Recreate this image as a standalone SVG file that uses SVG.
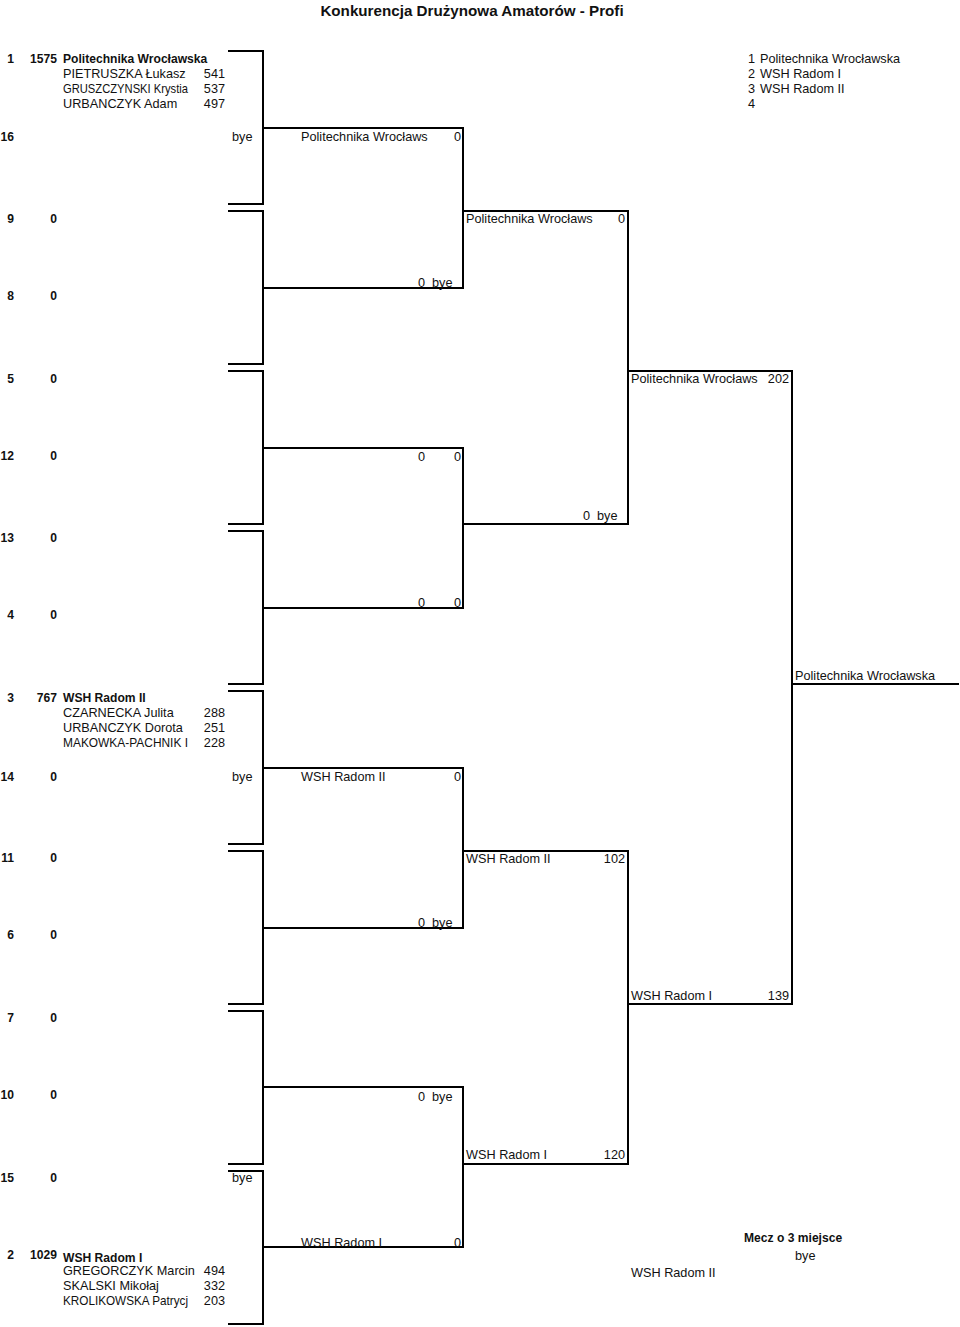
<svg xmlns="http://www.w3.org/2000/svg" width="960" height="1327" viewBox="0 0 960 1327">
<style>
text{font-family:"Liberation Sans",Arial,sans-serif;font-size:12.7px;fill:#111}
.b{font-weight:bold;font-size:12.1px}
.t{font-weight:bold;font-size:15.2px}
.e{text-anchor:end}
.c{text-anchor:middle}
.ln{fill:none;stroke:#000;stroke-width:2;stroke-linecap:square;stroke-linejoin:miter}
</style>
<rect width="960" height="1327" fill="#fff"/>
<g id="title"><text class="t c" x="472" y="16">Konkurencja Drużynowa Amatorów - Profi</text></g>
<g id="ranking">
<text x="748" y="63">1</text><text x="760" y="63">Politechnika Wrocławska</text>
<text x="748" y="77.5">2</text><text x="760" y="77.5">WSH Radom I</text>
<text x="748" y="92.5">3</text><text x="760" y="92.5">WSH Radom II</text>
<text x="748" y="107.5">4</text>
</g>
<g id="connectors">
<path class="ln" d="M229,51 H263 V204 H229"/>
<path class="ln" d="M229,211 H263 V364 H229"/>
<path class="ln" d="M229,371 H263 V524 H229"/>
<path class="ln" d="M229,531 H263 V684 H229"/>
<path class="ln" d="M229,691 H263 V844 H229"/>
<path class="ln" d="M229,851 H263 V1004 H229"/>
<path class="ln" d="M229,1011 H263 V1164 H229"/>
<path class="ln" d="M229,1171 H263 V1324 H229"/>
<path class="ln" d="M263,128 H463 V288 H263"/>
<path class="ln" d="M263,448 H463 V608 H263"/>
<path class="ln" d="M263,768 H463 V928 H263"/>
<path class="ln" d="M263,1087 H463 V1247 H263"/>
<path class="ln" d="M463,211 H628 V524 H463"/>
<path class="ln" d="M463,851 H628 V1164 H463"/>
<path class="ln" d="M628,371 H792 V1004 H628"/>
<path class="ln" d="M792,684 H958"/>
</g>
<g id="seed1">
<text class="b e" x="14" y="63">1</text><text class="b e" x="57" y="63">1575</text><text class="b" x="63" y="63">Politechnika Wrocławska</text>
<text x="63" y="77.5">PIETRUSZKA Łukasz</text><text class="e" x="225" y="77.5">541</text>
<text x="63" y="92.5" textLength="125" lengthAdjust="spacingAndGlyphs">GRUSZCZYNSKI Krystia</text><text class="e" x="225" y="92.5">537</text>
<text x="63" y="107.5">URBANCZYK Adam</text><text class="e" x="225" y="107.5">497</text>
</g>
<g id="seed16"><text class="b e" x="14" y="141">16</text><text x="232" y="141">bye</text></g>
<g id="seed9"><text class="b e" x="14" y="223">9</text><text class="b e" x="57" y="223">0</text></g>
<g id="seed8"><text class="b e" x="14" y="300">8</text><text class="b e" x="57" y="300">0</text></g>
<g id="seed5"><text class="b e" x="14" y="383">5</text><text class="b e" x="57" y="383">0</text></g>
<g id="seed12"><text class="b e" x="14" y="460">12</text><text class="b e" x="57" y="460">0</text></g>
<g id="seed13"><text class="b e" x="14" y="542">13</text><text class="b e" x="57" y="542">0</text></g>
<g id="seed4"><text class="b e" x="14" y="619">4</text><text class="b e" x="57" y="619">0</text></g>
<g id="seed3">
<text class="b e" x="14" y="702">3</text><text class="b e" x="57" y="702">767</text><text class="b" x="63" y="702">WSH Radom II</text>
<text x="63" y="717">CZARNECKA Julita</text><text class="e" x="225" y="717">288</text>
<text x="63" y="732">URBANCZYK Dorota</text><text class="e" x="225" y="732">251</text>
<text x="63" y="747" textLength="125" lengthAdjust="spacingAndGlyphs">MAKOWKA-PACHNIK I</text><text class="e" x="225" y="747">228</text>
</g>
<g id="seed14"><text class="b e" x="14" y="781">14</text><text class="b e" x="57" y="781">0</text><text x="232" y="781">bye</text></g>
<g id="seed11"><text class="b e" x="14" y="862">11</text><text class="b e" x="57" y="862">0</text></g>
<g id="seed6"><text class="b e" x="14" y="939">6</text><text class="b e" x="57" y="939">0</text></g>
<g id="seed7"><text class="b e" x="14" y="1022">7</text><text class="b e" x="57" y="1022">0</text></g>
<g id="seed10"><text class="b e" x="14" y="1099">10</text><text class="b e" x="57" y="1099">0</text></g>
<g id="seed15"><text class="b e" x="14" y="1182">15</text><text class="b e" x="57" y="1182">0</text><text x="232" y="1182">bye</text></g>
<g id="seed2">
<text class="b e" x="14" y="1259">2</text><text class="b e" x="57" y="1259">1029</text><text class="b" x="63" y="1262">WSH Radom I</text>
<text x="63" y="1275">GREGORCZYK Marcin</text><text class="e" x="225" y="1275">494</text>
<text x="63" y="1290">SKALSKI Mikołaj</text><text class="e" x="225" y="1290">332</text>
<text x="63" y="1305" textLength="125" lengthAdjust="spacingAndGlyphs">KROLIKOWSKA Patrycj</text><text class="e" x="225" y="1305">203</text>
</g>
<g id="r2-1"><text x="301" y="141">Politechnika Wrocławs</text><text class="e" x="461" y="141">0</text></g>
<g id="r2-2"><text x="418" y="287">0</text><text x="432" y="287">bye</text></g>
<g id="r2-3"><text x="418" y="461">0</text><text class="e" x="461" y="461">0</text></g>
<g id="r2-4"><text x="418" y="607">0</text><text class="e" x="461" y="607">0</text></g>
<g id="r2-5"><text x="301" y="781">WSH Radom II</text><text class="e" x="461" y="781">0</text></g>
<g id="r2-6"><text x="418" y="927">0</text><text x="432" y="927">bye</text></g>
<g id="r2-7"><text x="418" y="1101">0</text><text x="432" y="1101">bye</text></g>
<g id="r2-8"><text x="301" y="1247">WSH Radom I</text><text class="e" x="461" y="1247">0</text></g>
<g id="r3-1"><text x="466" y="223">Politechnika Wrocławs</text><text class="e" x="625" y="223">0</text></g>
<g id="r3-2"><text x="583" y="520">0</text><text x="597" y="520">bye</text></g>
<g id="r3-3"><text x="466" y="863">WSH Radom II</text><text class="e" x="625" y="863">102</text></g>
<g id="r3-4"><text x="466" y="1159">WSH Radom I</text><text class="e" x="625" y="1159">120</text></g>
<g id="r4-1"><text x="631" y="383">Politechnika Wrocławs</text><text class="e" x="789" y="383">202</text></g>
<g id="r4-2"><text x="631" y="1000">WSH Radom I</text><text class="e" x="789" y="1000">139</text></g>
<g id="final"><text x="795" y="680">Politechnika Wrocławska</text></g>
<g id="third-place">
<text class="b" x="744" y="1242">Mecz o 3 miejsce</text>
<text x="795" y="1260">bye</text>
<text x="631" y="1277">WSH Radom II</text>
</g>
</svg>
